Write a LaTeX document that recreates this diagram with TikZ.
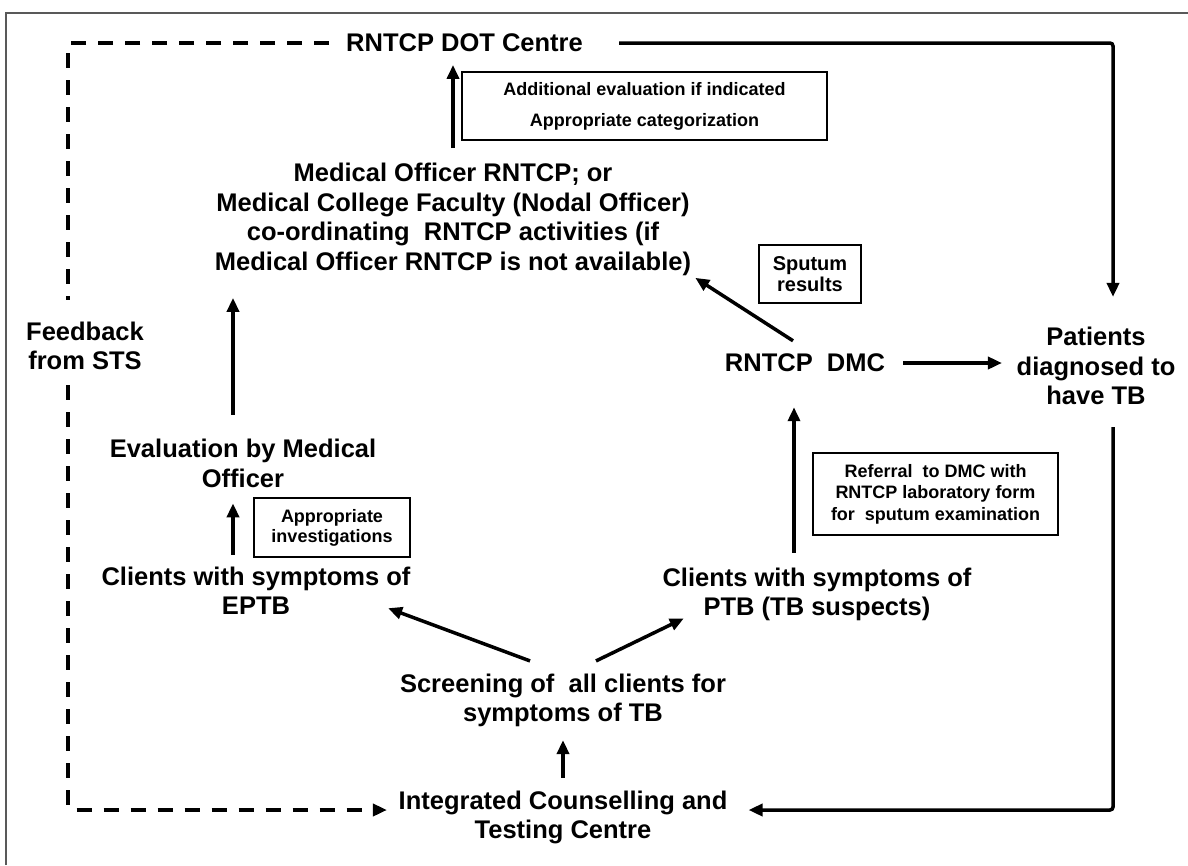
\documentclass[tikz,border=0pt]{standalone}
\usepackage{fontspec}
\setmainfont{Liberation Sans}
\usetikzlibrary{arrows.meta,calc}
\begin{document}
\begin{tikzpicture}[x=1pt,y=-1pt,
  lbl/.style={font=\fontsize{25.5}{29.5}\selectfont\bfseries, align=center, inner sep=0pt},
  notebox/.style={draw, line width=2.5pt, align=center, inner sep=0pt},
  smallA/.style={font=\fontsize{18}{31}\selectfont\bfseries},
  smallB/.style={font=\fontsize{18}{21.5}\selectfont\bfseries},
  smallC/.style={font=\fontsize{18}{20}\selectfont\bfseries},
  smallD/.style={font=\fontsize{20}{21}\selectfont\bfseries},
  conn/.style={line width=3.5pt, -{Triangle[length=14pt,width=12pt]}, rounded corners=3pt},
  dashline/.style={line width=3.5pt, dash pattern=on 15pt off 12pt, rounded corners=3pt}
]
\useasboundingbox (0,0) rectangle (1188,865);
\draw[gray!70!black, line width=1.5pt] (6,865) -- (6,13) -- (1188,13);

% nodes
\node[lbl] (dot) at (464.5,43) {RNTCP DOT Centre};
\node[lbl] (mo) at (453,219.5) {Medical Officer RNTCP; or\\Medical College Faculty (Nodal Officer)\\co-ordinating\ \ RNTCP activities (if\\Medical Officer RNTCP is not available)};
\node[notebox, smallA, minimum width=365pt, minimum height=68pt] (add) at (644.5,106) {Additional evaluation if indicated\\Appropriate categorization};
\node[notebox, smallD, minimum width=102pt, minimum height=58pt] (sput) at (810,274) {Sputum\\results};
\node[lbl] (dmc) at (805,363) {RNTCP\ \ DMC};
\node[lbl] (pat) at (1096,366) {Patients\\diagnosed to\\have TB};
\node[notebox, smallB, minimum width=245pt, minimum height=82pt] (ref) at (935.5,494) {Referral\ \ to DMC with\\RNTCP laboratory form\\for\ \ sputum examination};
\node[lbl] (ptb) at (817,594.5) {Clients with symptoms of\\PTB (TB suspects)};
\node[lbl] (eptb) at (256,591) {Clients with symptoms of\\EPTB};
\node[notebox, smallC, minimum width=156pt, minimum height=59pt] (inv) at (332,527.5) {Appropriate\\investigations};
\node[lbl] (eval) at (243,463.5) {Evaluation by Medical\\Officer};
\node[lbl] (scr) at (563,700.5) {Screening of\ \ all clients for\\symptoms of TB};
\node[lbl] (icc) at (563,817.5) {Integrated Counselling and\\Testing Centre};
\node[lbl] (fb) at (85,346) {Feedback\\from STS};

% connectors
\draw[conn, shorten <=15pt, shorten >=12.7pt] (mo.north) -- (mo.north |- dot.south);
\draw[conn, shorten <=36pt, shorten >=30pt] (dot.east) -| ([xshift=17pt]pat.north);
\draw[conn, shorten <=22pt, shorten >=21pt] ([xshift=17pt]pat.south) |- ([yshift=7.5pt]icc.east);
\draw[conn, shorten <=18pt, shorten >=14.5pt] (dmc.east) -- (dmc.east -| pat.west);
\draw[conn] ([xshift=-12pt,yshift=13pt]dmc.north) -- ([shift={(4pt,-2pt)}]mo.south east);
\draw[conn, shorten <=14.75pt, shorten >=35pt] ([xshift=-23pt]ptb.north) -- ([xshift=-23pt]ptb.north |- dmc.south);
\draw[conn] ([xshift=-33pt,yshift=12.75pt]scr.north) -- ([xshift=-22.5pt,yshift=7pt]eptb.south east);
\draw[conn] ([xshift=33pt,yshift=12.75pt]scr.north) -- ([xshift=21.5pt,yshift=3pt]ptb.south west);
\draw[conn, shorten <=12.75pt, shorten >=12.75pt] (icc.north) -- (scr.south);
\draw[conn, shorten <=12pt, shorten >=15.5pt] ([xshift=-23pt]eptb.north) -- ([xshift=-23pt]eptb.north |- eval.south);
\draw[conn, shorten <=24.5pt, shorten >=22pt] ([xshift=-10pt]eval.north) -- ([xshift=-10pt]eval.north |- mo.south);

% feedback loop (dashed)
\draw[dashline, shorten <=17pt, shorten >=22pt] (dot.west) -| ([xshift=-17pt]fb.north);
\draw[dashline, -{Triangle[length=14pt,width=12pt]}, shorten <=15pt, shorten >=11.5pt] ([xshift=-17pt]fb.south) |- ([yshift=7.5pt]icc.west);
\end{tikzpicture}
\end{document}
